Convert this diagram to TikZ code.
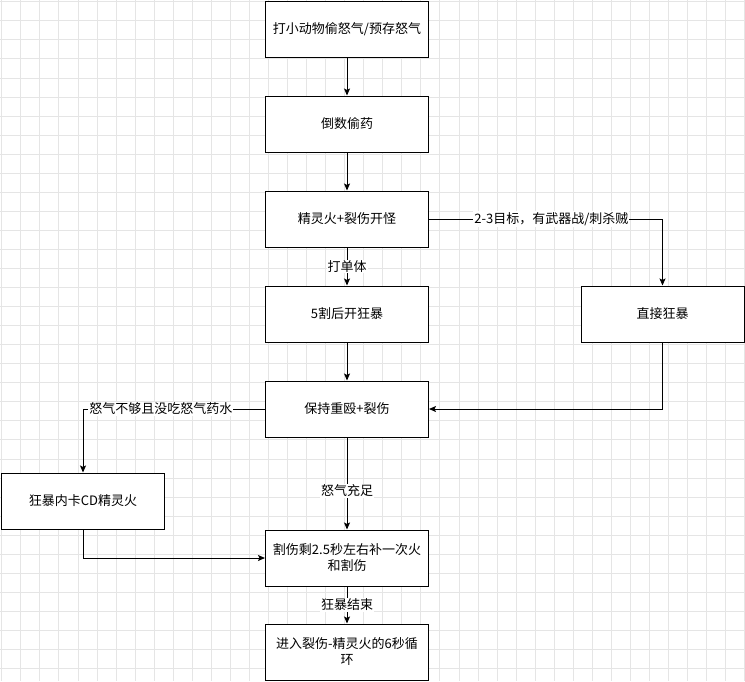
\documentclass[tikz,border=0pt]{standalone}
\usepackage{fontspec}
\setmainfont{Noto Sans CJK SC}
\usepackage{tikz}
\usetikzlibrary{arrows.meta, positioning, calc}
\tikzstyle{line} = [draw, -{Stealth[length=7pt,width=6pt,inset=1.5pt]}, line width=1pt]
\tikzstyle{block} = [rectangle, draw, line width=1pt, fill=white, minimum width=163pt, minimum height=56pt, inner sep=2pt, align=center, font=\fontsize{13}{16}\selectfont]
\tikzstyle{tag} = [fill=white, inner sep=1pt, font=\fontsize{13}{16}\selectfont]
\tikzstyle{gridline} = [draw=gray!20, line width=0.8pt]

\begin{document}
\begin{tikzpicture}[x=1pt, y=1pt, node distance=95pt, >=Stealth]
        \useasboundingbox (0,-681) rectangle (745,0);
        % background grid
        \foreach \i in {0,...,39} \draw [gridline] ({1.7+19.05*\i},0) -- ++(0,-681);
        \foreach \i in {0,...,35} \draw [gridline] (0,{-1.7-19.05*\i}) -- ++(745,0);

        \node [block] (hit) at (347,-29) {打小动物偷怒气/预存怒气};
        \node [block, below of=hit] (count) {倒数偷药};
        \node [block, below of=count] (open) {精灵火+裂伤开怪};
        \node [block, below of=open] (five) {5割后开狂暴};
        \node [block, right of=five, node distance=315.5pt] (direct) {直接狂暴};
        \node [block, below of=five] (keep) {保持重殴+裂伤};
        \node [block, left of=keep, node distance=264pt, yshift=-92pt] (inner) {狂暴内卡CD精灵火};
        \node [block, below of=keep, node distance=149pt] (refresh) {割伤剩2.5秒左右补一次火\\和割伤};
        \node [block, below of=refresh, node distance=94pt] (cycle) {进入裂伤-精灵火的6秒循\\环};

        \path [line] (hit) -- (count);
        \path [line] (count) -- (open);
        \path [line] (open) -- node[tag] {打单体} (five);
        \path [line] (open) -| node[tag, pos=0.262] {2-3目标，有武器战/刺杀贼} (direct);
        \path [line] (five) -- (keep);
        \path [line] (direct) |- (keep);
        \path [line] (keep) -| node[tag, pos=0.286] {怒气不够且没吃怒气药水} (inner);
        \path [line] (keep) -- node[tag, pos=0.58] {怒气充足} (refresh);
        \path [line] (inner) |- (refresh);
        \path [line] (refresh) -- node[tag] {狂暴结束} (cycle);
    \end{tikzpicture}
\end{document}
